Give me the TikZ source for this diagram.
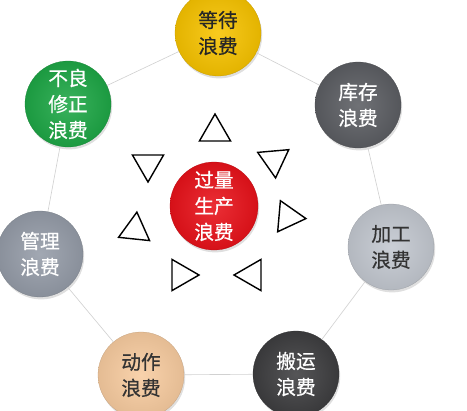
\documentclass[tikz,border=0pt]{standalone}
\usepackage{fontspec}
\newfontfamily\cjk{Noto Sans CJK SC}[FakeBold=0.6]
\usetikzlibrary{shapes.geometric,shadows}

\definecolor{wyellow}{HTML}{F7C300}
\definecolor{wdark}{HTML}{5C5E63}
\definecolor{wsilver}{HTML}{C3C8D0}
\definecolor{wblack}{HTML}{3E3E40}
\definecolor{wpeach}{HTML}{F8CCA0}
\definecolor{wslate}{HTML}{959CA8}
\definecolor{wgreen}{HTML}{1EA746}
\definecolor{wred}{HTML}{E8121A}

\begin{document}
\begin{tikzpicture}[x=0.5mm,y=-0.5mm,
    waste/.style={circle,minimum size=43mm,inner sep=0pt,align=center,
      font=\cjk\fontsize{28}{37}\selectfont,shading=radial,
      inner color=#1!88!white,outer color=#1!92!black,draw=#1!80!black,
      drop shadow={opacity=0.25,shadow xshift=0.6mm,shadow yshift=-1.2mm}},
    pointer/.style={regular polygon,regular polygon sides=3,minimum size=18mm,
      inner sep=0pt,draw,line width=2pt},
    link/.style={draw=black!18,line width=0.9pt}]
  \useasboundingbox (0,0) rectangle (467,410);

  \node[waste=wyellow,text=black!85] (waiting) at (218,33) {等待\\浪费};
  \node[waste=wdark,text=white] (inventory) at (358,105) {库存\\浪费};
  \node[waste=wsilver,text=black!80] (processing) at (391,247) {加工\\浪费};
  \node[waste=wblack,text=white] (transport) at (296,374) {搬运\\浪费};
  \node[waste=wpeach,text=black!80] (motion) at (141,375) {动作\\浪费};
  \node[waste=wslate,text=white] (management) at (40,254) {管理\\浪费};
  \node[waste=wgreen,text=white] (defect) at (68,104) {不良\\修正\\浪费};
  \node[waste=wred,text=white,minimum size=44mm] (overproduction) at (214,206) {过量\\生产\\浪费};

  \draw[link] (waiting) -- (inventory);
  \draw[link] (inventory) -- (processing);
  \draw[link] (processing) -- (transport);
  \draw[link] (transport) -- (motion);
  \draw[link] (motion) -- (management);
  \draw[link] (management) -- (defect);
  \draw[link] (defect) -- (waiting);

  \node[pointer] (tri1) at (215,132) {};
  \node[pointer,rotate=185] (tri2) at (274,160) {};
  \node[pointer,rotate=-95] (tri3) at (288,217) {};
  \node[pointer,rotate=90] (tri4) at (252,275) {};
  \node[pointer,rotate=-90] (tri5) at (181,275) {};
  \node[pointer,rotate=-6] (tri6) at (135,230) {};
  \node[pointer,rotate=180] (tri7) at (148,164) {};
\end{tikzpicture}
\end{document}
